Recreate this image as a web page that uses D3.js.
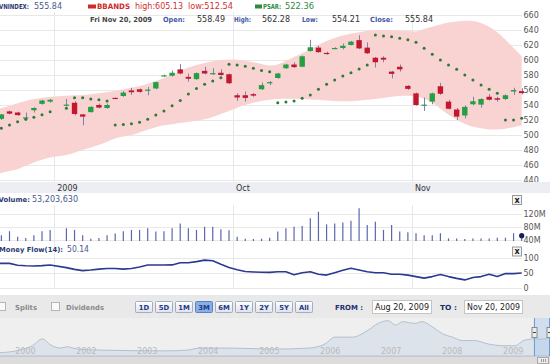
<!DOCTYPE html>
<html>
<head>
<meta charset="utf-8">
<script src="https://cdn.jsdelivr.net/npm/d3@7/dist/d3.min.js"></script>
<style>
  body { margin: 0; background: #fff; }
  svg { display: block; font-family: "DejaVu Sans", Verdana, sans-serif; }
</style>
</head>
<body>
<div id="chart"></div>
<script>
// VNINDEX daily, Aug 20 - Nov 20 2009 (Sep 2 is a holiday: no session)
const dates = [
  "2009-08-20","2009-08-21","2009-08-24","2009-08-25","2009-08-26","2009-08-27","2009-08-28","2009-08-31",
  "2009-09-01","2009-09-03","2009-09-04","2009-09-07","2009-09-08","2009-09-09","2009-09-10","2009-09-11",
  "2009-09-14","2009-09-15","2009-09-16","2009-09-17","2009-09-18","2009-09-21","2009-09-22","2009-09-23",
  "2009-09-24","2009-09-25","2009-09-28","2009-09-29","2009-09-30","2009-10-01","2009-10-02","2009-10-05",
  "2009-10-06","2009-10-07","2009-10-08","2009-10-09","2009-10-12","2009-10-13","2009-10-14","2009-10-15",
  "2009-10-16","2009-10-19","2009-10-20","2009-10-21","2009-10-22","2009-10-23","2009-10-26","2009-10-27",
  "2009-10-28","2009-10-29","2009-10-30","2009-11-02","2009-11-03","2009-11-04","2009-11-05","2009-11-06",
  "2009-11-09","2009-11-10","2009-11-11","2009-11-12","2009-11-13","2009-11-16","2009-11-17","2009-11-18",
  "2009-11-19","2009-11-20"
];
const open = [
  515,517,521.5,531.5,530,523,533,541.5,544.5,540,543,527.5,530.5,540,536,549.5,
  552,559.5,561,560,562,579,579,587.5,577.5,574.5,585.5,582,583,581,553,553,
  554.5,561,570,576,589,594,591,612,616.5,609.5,615,616,620,626.5,616.5,603,
  603,584.5,591,565.5,555.5,540,544.5,565,544.5,534,526,541,540.5,551,549,548,
  558,558.49
];
const high = [
  518,522,528,532.5,531,530,537,547,548,548,545,528,538.5,542,542,550,
  558.5,563,562,564,571,580.5,586,594.5,582,583.5,591,589,587.5,582,555.5,558,
  556,570,572,583,595,597,606,627,619,611,617,622,625.5,633,623.5,604,
  605,585.5,594,566.5,556.5,550,556.5,569.5,547,536,539.5,551,549,554.5,551,554,
  563,562.28
];
const low = [
  512,515,520,527.5,525.5,519,530,540.5,543,538,526,513,530,535.5,535,548.5,
  551,553.5,556.5,553,561,578,578,581,571,573.5,581,580,579,568,545.5,544.5,
  551,560,566.5,575,588,589.5,590.5,611,609.5,607,614.5,614,619.5,614.5,608,590,
  597,575.5,584.5,560,539,532,541,553.5,534,520,522,539.5,536.5,546,544.5,546.5,
  553.5,554.21
];
const close = [
  517,520,527.5,528.5,526.5,523.5,536,546,547,540.5,528,524.5,537.5,536.5,540,549,
  556.5,557,557.5,560.5,570.5,579.5,583,582,575,582.5,582,582.5,580,569,550,549.5,
  552.5,566.5,570.5,582,594,590.5,605,617,610.5,608,616,619,624.5,615.5,609,597,
  600.5,581.5,587.5,561.5,540,540.5,555.5,555,535,524.5,537.5,545,548,547,547,553,
  560,555.84
];
const bbUpper = [
  530,533,536,539,542.5,545.5,548,549.5,551,552.4,553,553.3,554.3,555.6,557.3,559,
  561,563,565.5,568.5,572,576,580,585.5,590,593.5,596,598.3,600,600.8,600.5,599,
  597,594.8,592.8,594,599,604,609,614.5,620,625.5,629.5,632.6,635,637,639,640,
  640,640,639.3,638.6,638,641.5,644.5,647.5,650,651.5,652.5,652,649.5,644.5,637,627,
  616,605.13
];
const bbLower = [
  446,447.5,449.5,452,454.5,459,463.5,467,470,473.3,476.5,480,483.5,486.7,491,495.5,
  498,500,503.5,507,510.5,513,514.5,516,517.5,519,521,524,528,532,536.5,540,
  543,545.5,547,548,548.5,548.5,548,547.5,547,546,545.5,545,545,546,547,548,
  549.5,551,552,552.5,551.5,548.5,543,535,527,520.5,515,511,509,507.5,507.5,508.5,
  510.5,512.54
];
const psar = [
  503,506,509,513.5,517.8,521,523.6,527,531,535.6,549.8,549.8,548,547,545.5,513.5,
  514,515,517,521,526.7,532,539,546,554.7,562,567.6,572,576.4,594.2,593.3,591.6,
  589,586,584.4,543.1,544,545.3,548.9,553.3,560.9,567.6,573.3,578.7,583.1,588,593.3,633.3,
  632,631.1,628.9,627.1,623.6,615.6,607.6,600,593.3,587.6,580,573.3,566.7,560.9,555.6,520,
  520,522.36
];
// volume in millions of shares
const volume = [
  50,52,55,67,50,46,55,67,71,76,71,55,44,46,55,60,
  67,71,71,76,66,67,76,91,76,71,81,81,73,70,50,44,
  43,44,47,66,76,81,83,107,127,88,91,94,99,138,86,96,
  71,86,66,64,61,55,55,61,45,45,43,45,45,45,47,47,
  61,53.20363
];
const moneyFlow = [
  82,82,82,82,76,74,73.5,74.5,76.5,68,62,58,60,63,65,65,
  63,65,70,76.5,76.7,76.7,77,84,84.4,88,93,91,79,68,61,55,
  53.5,52.5,52,54,54.4,44,51,54,46,43,51,59,66,60,54,51,
  51,46,46,43,38,33,38,45,38,32,27,35,38,46,38,48,
  48,50.14
];

const priceTicks = d3.range(440, 661, 20);
const volumeTicks = [40e6, 80e6, 120e6];
const mfTicks = [0, 50, 100];
const monthTicks = [
  {date: "2009-09-01", label: "2009"},
  {date: "2009-10-01", label: "Oct"},
  {date: "2009-11-02", label: "Nov"}
];
const rangeButtons = ["1D", "5D", "1M", "3M", "6M", "1Y", "2Y", "5Y", "All"];
const activeRange = "3M";

// long-term history for the navigator strip
const navDates = [
  "2000-07-28","2000-10-15","2001-02-01","2001-04-20","2001-06-20","2001-08-05","2001-10-05","2001-11-15",
  "2002-01-15","2002-06-15","2003-07-01","2003-11-01","2004-01-15","2004-08-01","2005-04-01","2005-11-01",
  "2006-02-05","2006-04-05","2006-07-20","2006-10-20","2006-12-20","2007-02-20","2007-04-05","2007-05-15",
  "2007-07-28","2007-09-10","2007-11-10","2008-01-10","2008-03-10","2008-05-10","2008-07-20","2008-10-10",
  "2009-01-05","2009-03-20","2009-05-10","2009-07-15","2009-09-01","2009-10-20","2009-11-20"
];
const navValues = [
  100,113,195,343,571,377,263,309,229,195,171,195,263,263,229,263,
  400,628,628,857,1086,1177,1029,1143,1086,1143,972,743,628,514,514,400,
  343,343,514,571,560,610,556
];
const navTicks = [
  ["2000","2001-01-01"],["2002","2002-01-01"],["2003","2003-01-01"],["2004","2004-01-01"],
  ["2005","2005-01-01"],["2006","2006-01-01"],["2007","2007-01-01"],["2008","2008-01-01"],
  ["2009","2009-01-01"]
];

const width = 550, height = 364;
const plotRight = 522;
const fmt2 = d3.format(".2f");
const crisp = v => Math.round(v) + 0.5;

const svg = d3.select("#chart").append("svg")
    .attr("width", width)
    .attr("height", height);

const parse = d3.utcParse("%Y-%m-%d");
const key = d3.utcFormat("%Y-%m-%d");

// one slot per weekday, so the holiday leaves an empty slot
const slots = d3.utcDays(parse("2009-08-20"), parse("2009-11-21"))
    .filter(d => d.getUTCDay() % 6 !== 0)
    .map(key);

const x = d3.scalePoint().domain(slots).range([-14.9, 521.7]);
const step = x.step();

const data = dates.map((d, i) => ({
  date: d, o: open[i], h: high[i], l: low[i], c: close[i],
  up: bbUpper[i], lo: bbLower[i], sar: psar[i],
  vol: volume[i] * 1e6, mf: moneyFlow[i]
}));
const last = data[data.length - 1];

const y = d3.scaleLinear().domain([440, 660]).range([180, 15]);
const vy = d3.scaleLinear().domain([40e6, 120e6]).range([240, 214]);
const my = d3.scaleLinear().domain([0, 100]).range([288, 258]);

svg.append("clipPath").attr("id", "plot")
  .append("rect").attr("x", 0).attr("y", 10).attr("width", 524).attr("height", 172);

function text(g, s, x0, yb, o = {}) {
  const t = g.append("text")
      .attr("x", x0).attr("y", yb)
      .attr("font-size", o.size || 8)
      .attr("font-weight", o.bold ? "bold" : null)
      .attr("fill", o.color || "#333")
      .attr("text-anchor", o.anchor || null)
      .text(s);
  if (o.len) t.attr("textLength", o.len).attr("lengthAdjust", "spacingAndGlyphs");
  return t;
}

//grid lines
const grid = svg.append("g").attr("stroke", "#e8e8e8").attr("shape-rendering", "crispEdges");
grid.selectAll(".p").data(priceTicks).join("line")
    .attr("x1", 0).attr("x2", plotRight)
    .attr("y1", d => crisp(y(d))).attr("y2", d => crisp(y(d)));
grid.selectAll(".v").data(volumeTicks).join("line")
    .attr("x1", 0).attr("x2", plotRight)
    .attr("y1", d => crisp(vy(d))).attr("y2", d => crisp(vy(d)));
grid.selectAll(".m").data(mfTicks).join("line")
    .attr("x1", 0).attr("x2", plotRight)
    .attr("y1", d => crisp(my(d))).attr("y2", d => crisp(my(d)));

const monthX = d => crisp(x(d.date) + step / 2);
[[12, 182], [205, 289]].forEach(([a, b]) => {
  grid.append("g").selectAll("line").data(monthTicks).join("line")
      .attr("x1", monthX).attr("x2", monthX)
      .attr("y1", a).attr("y2", b);
});

//bollinger band
const band = d3.area()
    .x(d => x(d.date))
    .y0(d => y(d.lo))
    .y1(d => y(d.up))
    .curve(d3.curveMonotoneX);

svg.append("path")
    .datum(data)
    .attr("clip-path", "url(#plot)")
    .attr("fill", "#f9d3d1")
    .attr("d", band);

//candles
const candles = svg.append("g").attr("clip-path", "url(#plot)")
  .selectAll("g").data(data).join("g");

candles.append("line")
    .attr("x1", d => crisp(x(d.date))).attr("x2", d => crisp(x(d.date)))
    .attr("y1", d => y(d.h)).attr("y2", d => y(d.l))
    .attr("stroke", "#7d82b0");

candles.append("rect")
    .attr("x", d => x(d.date) - 2.7)
    .attr("width", 5.4)
    .attr("y", d => y(Math.max(d.o, d.c)))
    .attr("height", d => Math.max(1.2, Math.abs(y(d.o) - y(d.c))))
    .attr("fill", d => d.c >= d.o ? "#24a043" : "#c3172e");

//parabolic SAR
svg.append("g").attr("clip-path", "url(#plot)")
  .selectAll("circle").data(data).join("circle")
    .attr("cx", d => x(d.date))
    .attr("cy", d => y(d.sar))
    .attr("r", 1.5)
    .attr("fill", "#2c7a3a");

//right axis labels
const axisText = svg.append("g");
priceTicks.forEach(t => text(axisText, t, 523.5, y(t) + 3, {color: "#555"}));
volumeTicks.forEach(t => text(axisText, t / 1e6 + "M", 523.5, vy(t) + 3, {color: "#555"}));
mfTicks.forEach(t => text(axisText, t, 523.5, my(t) + 3, {color: "#555"}));

//header
const head = svg.append("g");
text(head, "VNINDEX:", -1, 8.5, {bold: true, color: "#2c3a70", size: 7, len: 30});
text(head, fmt2(last.c), 34, 8.5, {color: "#4a5a8e", size: 8.3, len: 28});
head.append("rect").attr("x", 88).attr("y", 4.5).attr("width", 8).attr("height", 4).attr("fill", "#d02a2a");
text(head, "BBANDS", 97, 8.5, {bold: true, color: "#d02a2a", size: 7.5, len: 33});
text(head, "high:" + fmt2(last.up), 135, 8.5, {color: "#d0302f", size: 8, len: 48});
text(head, "low:" + fmt2(last.lo), 188, 8.5, {color: "#d0302f", size: 8, len: 45});
head.append("rect").attr("x", 255).attr("y", 4.5).attr("width", 7).attr("height", 4).attr("fill", "#2e8a3e");
text(head, "PSAR:", 263, 8.5, {bold: true, color: "#2e8a3e", size: 7, len: 18});
text(head, fmt2(last.sar), 285, 8.5, {color: "#2e8a3e", size: 8.3, len: 29});

const blue = "#4457a5";
text(head, d3.utcFormat("%a %b %d, %Y")(parse(last.date)), 90, 21.5, {bold: true, color: "#444", size: 7, len: 62});
[["Open:", last.o, 163, 22, 197], ["High:", last.h, 234, 17, 262],
 ["Low:", last.l, 302, 16, 332], ["Close:", last.c, 370, 23, 405]].forEach(([lab, v, x0, w, vx]) => {
  text(head, lab, x0, 21.5, {bold: true, color: blue, size: 7, len: w});
  text(head, fmt2(v), vx, 21.5, {color: "#333", size: 8.3, len: 28});
});

//x axis band
svg.append("rect").attr("x", 0).attr("y", 182).attr("width", width).attr("height", 11)
    .attr("fill", "#eceef4");
monthTicks.forEach(m => text(svg, m.label, x(m.date) + step / 2 + 3, 190.5, {color: "#333"}));

//close buttons
function closeBox(y0) {
  const g = svg.append("g");
  g.append("rect").attr("x", 512.5).attr("y", y0 + 0.5).attr("width", 9).attr("height", 9)
      .attr("fill", "#f3f3f3").attr("stroke", "#999");
  text(g, "x", 517, y0 + 7.5, {bold: true, size: 8, color: "#222", anchor: "middle"});
}

//volume panel
text(svg, "Volume:", -1.5, 202, {bold: true, color: "#2c3a70", size: 7, len: 31.5});
text(svg, d3.format(",")(Math.round(last.vol)), 32, 202, {color: "#4a5a8e", size: 8, len: 46});
closeBox(195);

svg.append("g")
  .selectAll("line").data(data).join("line")
    .attr("x1", d => x(d.date)).attr("x2", d => x(d.date))
    .attr("y1", vy(40e6) + 1).attr("y2", d => Math.min(vy(d.vol), vy(40e6) - 0.5))
    .attr("stroke", "#5c66aa")
    .attr("stroke-width", 1.2);

svg.append("circle")
    .attr("cx", x(last.date)).attr("cy", vy(last.vol)).attr("r", 2.6)
    .attr("fill", "#161c5e");

//money flow panel
text(svg, "Money Flow(14):", -1, 252, {bold: true, color: "#2c3a70", size: 7, len: 64});
text(svg, fmt2(last.mf), 67, 252, {color: "#4a5a8e", size: 8, len: 22});
closeBox(246.5);

svg.append("path")
    .datum(data)
    .attr("fill", "none")
    .attr("stroke", "#2b3990")
    .attr("stroke-width", 1.6)
    .attr("stroke-linejoin", "round")
    .attr("d", d3.line().x(d => x(d.date)).y(d => my(d.mf)));

//toolbar
const bar = svg.append("g");
bar.append("rect").attr("x", 0).attr("y", 295).attr("width", width).attr("height", 23).attr("fill", "#e9e9e9");

[[-3, "Splits", 15, 22], [51, "Dividends", 66, 38]].forEach(([bx, lab, tx, w]) => {
  bar.append("rect").attr("x", bx + 0.5).attr("y", 302.5).attr("width", 8).attr("height", 8)
      .attr("fill", "#fafafa").attr("stroke", "#b5b5b5");
  text(bar, lab, tx, 309.5, {bold: true, size: 7, color: "#8a8a8a", len: w});
});

const defs = svg.append("defs");
const grad = defs.append("linearGradient").attr("id", "btn").attr("x1", 0).attr("x2", 0).attr("y1", 0).attr("y2", 1);
grad.append("stop").attr("offset", 0).attr("stop-color", "#ffffff");
grad.append("stop").attr("offset", 1).attr("stop-color", "#dfe2e8");

const btn = bar.selectAll(".btn").data(rangeButtons).join("g")
    .attr("transform", (d, i) => `translate(${135.5 + i * 20},301.5)`);
btn.append("rect").attr("width", 17).attr("height", 11).attr("rx", 1)
    .attr("fill", d => d === activeRange ? "#88afe6" : "url(#btn)")
    .attr("stroke", d => d === activeRange ? "#5d80c2" : "#a3acc2");
btn.append("text").attr("x", 8.5).attr("y", 8.3).attr("text-anchor", "middle")
    .attr("font-size", 6.8).attr("font-weight", "bold")
    .attr("fill", "#23388a").text(d => d);

const fromTo = d3.utcFormat("%b %d, %Y");
text(bar, "FROM :", 335, 310, {bold: true, size: 7, color: "#23306e", len: 28});
bar.append("rect").attr("x", 372.5).attr("y", 300.5).attr("width", 59).attr("height", 13)
    .attr("fill", "#fff").attr("stroke", "#c4c4c4");
text(bar, fromTo(parse(dates[0])), 375, 310, {size: 8, color: "#222", len: 54});
text(bar, "TO :", 440, 310, {bold: true, size: 7, color: "#23306e", len: 17});
bar.append("rect").attr("x", 464.5).attr("y", 300.5).attr("width", 58).attr("height", 13)
    .attr("fill", "#fff").attr("stroke", "#c4c4c4");
text(bar, fromTo(parse(last.date)), 467, 310, {size: 8, color: "#222", len: 53});

//navigator
const nav = svg.append("g");
nav.append("rect").attr("x", 0).attr("y", 318).attr("width", width).attr("height", 39).attr("fill", "#efefef");

const navX = d3.scaleUtc().domain([parse("2000-07-28"), parse("2009-11-20")]).range([-12, 556]);
const navY = d3.scaleLinear().domain([0, 1200]).range([356, 320]);
const navData = navDates.map((d, i) => ({date: parse(d), v: navValues[i]}));

nav.append("path")
    .datum(navData)
    .attr("fill", "#dde3eb")
    .attr("stroke", "#b3bfd0")
    .attr("d", d3.area().x(d => navX(d.date)).y0(navY(0)).y1(d => navY(d.v)).curve(d3.curveMonotoneX));

navTicks.forEach(([lab, d]) => text(nav, lab, navX(parse(d)) + 1, 354, {size: 8, color: "#b9b9b9"}));

// window is pinned against the right edge
const shift = navX(parse(last.date)) - 549;
const wx0 = navX(parse(dates[0])) - shift, wx1 = 549;
nav.append("rect").attr("x", wx0).attr("y", 318).attr("width", wx1 - wx0).attr("height", 38)
    .attr("fill", "#9cc0ea").attr("fill-opacity", 0.35);
[wx0, wx1].forEach(hx => {
  nav.append("line").attr("x1", crisp(hx)).attr("x2", crisp(hx)).attr("y1", 318).attr("y2", 356)
      .attr("stroke", "#6f9dd8");
  nav.append("rect").attr("x", Math.round(hx) - 2).attr("y", 327.5).attr("width", 5).attr("height", 10)
      .attr("fill", "#ececec").attr("stroke", "#8a8a8a");
  nav.append("rect").attr("x", Math.round(hx) - 1).attr("y", 332).attr("width", 3).attr("height", 1).attr("fill", "#444");
});

//scrollbar
nav.append("rect").attr("x", 0).attr("y", 357).attr("width", width).attr("height", 7).attr("fill", "#dcdcdc");
nav.append("line").attr("x1", 0).attr("x2", width).attr("y1", 356.5).attr("y2", 356.5).attr("stroke", "#c9c9c9");
nav.append("rect").attr("x", 537.5).attr("y", 357.5).attr("width", 11).attr("height", 6)
    .attr("fill", "#ececec").attr("stroke", "#aaa");
[541, 543, 545].forEach(lx => nav.append("line").attr("x1", lx + 0.5).attr("x2", lx + 0.5)
    .attr("y1", 359).attr("y2", 362).attr("stroke", "#999"));
</script>
</body>
</html>
